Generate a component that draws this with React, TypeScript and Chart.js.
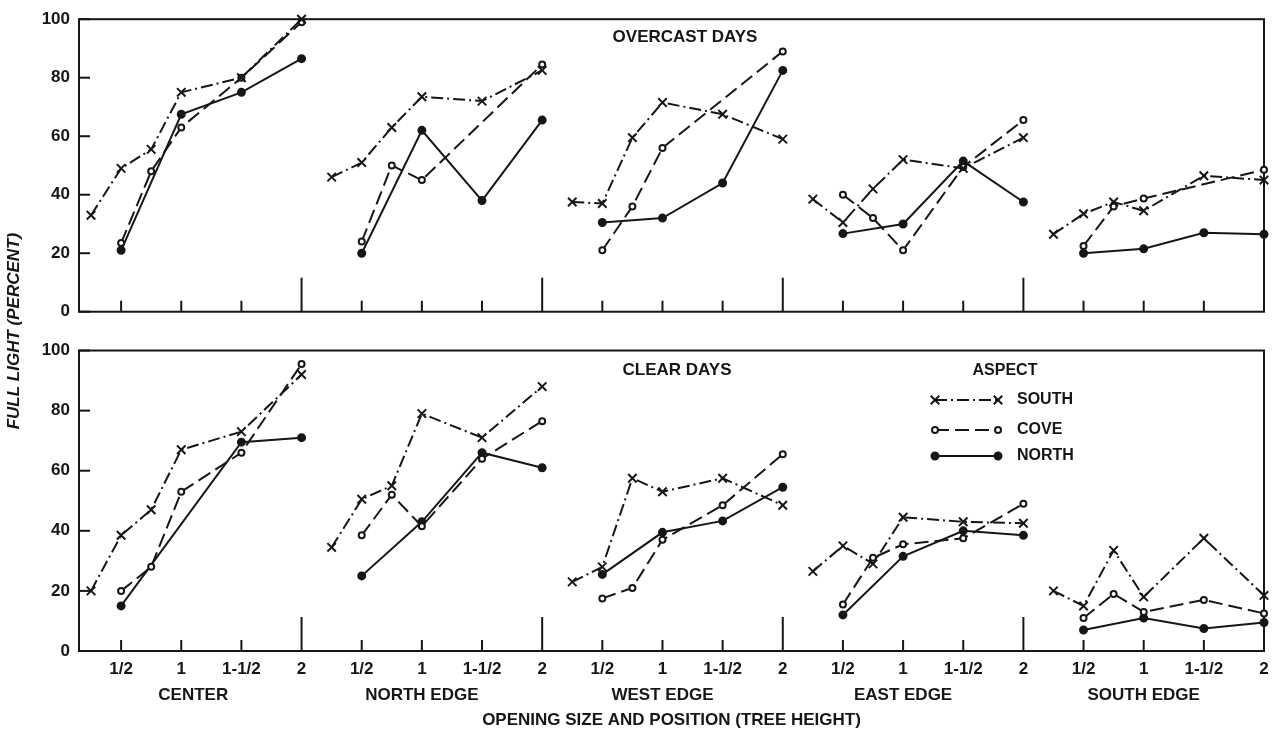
import React, { useEffect, useRef } from 'react';
import { Chart, registerables } from 'chart.js';

Chart.register(...registerables);

// ---------- data ----------
const GROUPS = ['CENTER', 'NORTH EDGE', 'WEST EDGE', 'EAST EDGE', 'SOUTH EDGE'];
// opening size (tree heights) sampled inside every group
const POSITIONS = [0.25, 0.5, 0.75, 1, 1.5, 2];
const X_TICK_POSITIONS = [0.5, 1, 1.5, 2];
const X_TICK_LABELS = ['1/2', '1', '1-1/2', '2'];
const Y_TICKS = [0, 20, 40, 60, 80, 100];
const ASPECTS = ['SOUTH', 'COVE', 'NORTH'];
const PANEL_TITLES = ['OVERCAST DAYS', 'CLEAR DAYS'];
const X_TITLE = 'OPENING SIZE AND POSITION (TREE HEIGHT)';
const Y_TITLE = 'FULL LIGHT (PERCENT)';
const LEGEND_TITLE = 'ASPECT';

// values per group, in POSITIONS order (null = not measured)
const overcastSouth = [
  33, 49, 55.5, 75, 80, 100,
  46, 51, 63, 73.5, 72, 82.5,
  37.5, 37, 59.5, 71.5, 67.5, 59,
  38.5, 30.5, 42, 52, 49, 59.5,
  26.5, 33.5, 37.5, 34.5, 46.5, 45,
];
const overcastCove = [
  null, 23.5, 48, 63, 80, 99,
  null, 24, 50, 45, null, 84.5,
  null, 21, 36, 56, null, 89,
  null, 40, 32, 21, 49.5, 65.5,
  null, 22.5, 36, 38.7, null, 48.5,
];
const overcastNorth = [
  null, 21, null, 67.5, 75, 86.5,
  null, 20, null, 62, 38, 65.5,
  null, 30.5, null, 32, 44, 82.5,
  null, 26.7, null, 30, 51.5, 37.5,
  null, 20, null, 21.5, 27, 26.5,
];
const clearSouth = [
  20, 38.5, 47, 67, 73, 92,
  34.5, 50.5, 55, 79, 71, 88,
  23, 28, 57.5, 53, 57.5, 48.5,
  26.5, 35, 29, 44.5, 43, 42.5,
  20, 15, 33.5, 18, 37.5, 18.5,
];
const clearCove = [
  null, 20, 28, 53, 66, 95.5,
  null, 38.5, 52, 41.5, 64, 76.5,
  null, 17.5, 21, 37, 48.5, 65.5,
  null, 15.5, 31, 35.5, 37.5, 49,
  null, 11, 19, 13, 17, 12.5,
];
const clearNorth = [
  null, 15, null, null, 69.5, 71,
  null, 25, null, 43, 66, 61,
  null, 25.5, null, 39.5, 43.3, 54.5,
  null, 12, null, 31.5, 40, 38.5,
  null, 7, null, 11, 7.5, 9.5,
];

// ---------- styles / layout ----------
const INK = '#161616';
const FONT = "'Liberation Sans', Arial, Helvetica, sans-serif";
const GROUP_SPAN = 2;
const GROUP_LABEL_AT = [1.1, 3, 5, 7, 9];

type Style = { dash: number[]; pointStyle: string; radius: number; fill: string };
const STYLES: Record<string, Style> = {
  SOUTH: { dash: [12, 4, 2, 4], pointStyle: 'crossRot', radius: 6, fill: '#ffffff' },
  COVE: { dash: [14, 6], pointStyle: 'circle', radius: 3, fill: '#ffffff' },
  NORTH: { dash: [], pointStyle: 'circle', radius: 3.5, fill: INK },
};

function toPoints(values: (number | null)[]) {
  const pts: { x: number; y: number | null }[] = [];
  GROUPS.forEach((_, g) => {
    POSITIONS.forEach((p, i) => {
      const v = values[g * POSITIONS.length + i];
      if (v !== null && v !== undefined) pts.push({ x: g * GROUP_SPAN + p, y: v });
    });
    if (g < GROUPS.length - 1) pts.push({ x: g * GROUP_SPAN + GROUP_SPAN + 0.1, y: null });
  });
  return pts;
}

function tickLabel(value: number) {
  const rel = value - GROUP_SPAN * Math.floor((value - 0.001) / GROUP_SPAN);
  const idx = X_TICK_POSITIONS.findIndex((p) => Math.abs(p - rel) < 0.01);
  return idx >= 0 ? X_TICK_LABELS[idx] : '';
}

function drawMarker(ctx: CanvasRenderingContext2D, st: Style, x: number, y: number) {
  ctx.save();
  ctx.setLineDash([]);
  ctx.lineWidth = 2;
  ctx.strokeStyle = INK;
  if (st.pointStyle === 'crossRot') {
    const d = st.radius * Math.SQRT1_2;
    ctx.beginPath();
    ctx.moveTo(x - d, y - d);
    ctx.lineTo(x + d, y + d);
    ctx.moveTo(x - d, y + d);
    ctx.lineTo(x + d, y - d);
    ctx.stroke();
  } else {
    ctx.beginPath();
    ctx.arc(x, y, st.radius, 0, Math.PI * 2);
    ctx.fillStyle = st.fill;
    ctx.fill();
    ctx.stroke();
  }
  ctx.restore();
}

const decorPlugin = {
  id: 'decor',
  beforeDatasetsDraw(chart: any) {
    const { ctx, chartArea, scales } = chart;
    const xs = scales.x;
    ctx.save();
    ctx.strokeStyle = INK;
    ctx.lineWidth = 2;
    ctx.setLineDash([]);
    const line = (x1: number, y1: number, x2: number, y2: number) => {
      ctx.beginPath();
      ctx.moveTo(x1, y1);
      ctx.lineTo(x2, y2);
      ctx.stroke();
    };
    for (const id of ['yTop', 'yBot']) {
      const ys = scales[id];
      const top = ys.getPixelForValue(100);
      const bottom = ys.getPixelForValue(0);
      ctx.strokeRect(chartArea.left, top, chartArea.right - chartArea.left, bottom - top);
      for (const v of Y_TICKS) {
        const py = ys.getPixelForValue(v);
        line(chartArea.left, py, chartArea.left + 11, py);
      }
      GROUPS.forEach((_, g) => {
        X_TICK_POSITIONS.forEach((p) => {
          const px = xs.getPixelForValue(g * GROUP_SPAN + p);
          const len = p === GROUP_SPAN && g < GROUPS.length - 1 ? 34 : 11;
          line(px, bottom, px, bottom - len);
        });
      });
    }
    ctx.restore();
  },
  afterDraw(chart: any) {
    const { ctx, scales } = chart;
    const xs = scales.x;
    ctx.save();
    ctx.fillStyle = INK;
    ctx.textAlign = 'center';
    ctx.textBaseline = 'middle';
    ctx.font = `bold 17px ${FONT}`;
    // panel titles
    ctx.fillText(PANEL_TITLES[0], 685, 37);
    ctx.fillText(PANEL_TITLES[1], 677, 370);
    // group labels
    GROUPS.forEach((name, g) => {
      ctx.fillText(name, xs.getPixelForValue(GROUP_LABEL_AT[g]), 695);
    });
    // legend
    ctx.font = `bold 16px ${FONT}`;
    ctx.fillText(LEGEND_TITLE, 1005, 371);
    const rows = [400, 430, 456];
    ASPECTS.forEach((a, i) => {
      const st = STYLES[a];
      const y = rows[i];
      ctx.save();
      ctx.strokeStyle = INK;
      ctx.lineWidth = 2;
      ctx.setLineDash(st.dash);
      ctx.beginPath();
      ctx.moveTo(935, y);
      ctx.lineTo(998, y);
      ctx.stroke();
      ctx.restore();
      drawMarker(ctx, st, 935, y);
      drawMarker(ctx, st, 998, y);
      ctx.textAlign = 'left';
      ctx.font = `bold 16px ${FONT}`;
      ctx.fillText(a, 1017, y);
    });
    ctx.restore();
  },
};

function makeDataset(label: string, values: (number | null)[], aspect: string, yAxisID: string) {
  const st = STYLES[aspect];
  return {
    label,
    data: toPoints(values),
    yAxisID,
    xAxisID: 'x',
    borderColor: INK,
    borderWidth: 2,
    borderDash: st.dash,
    pointStyle: st.pointStyle,
    pointRadius: st.radius,
    pointBorderWidth: 2,
    pointBorderColor: INK,
    pointBackgroundColor: st.fill,
    tension: 0,
    spanGaps: false,
    clip: false,
  };
}

export default function App() {
  const ref = useRef<HTMLCanvasElement | null>(null);
  useEffect(() => {
    if (!ref.current) return;
    const yCommon = {
      type: 'linear',
      position: 'left',
      stack: 'panels',
      min: 0,
      max: 100,
      grid: { display: false, drawTicks: false },
      border: { display: false },
      ticks: {
        stepSize: 20,
        padding: 9,
        color: INK,
        font: { family: FONT, size: 17, weight: 'bold' },
      },
      afterFit: (s: any) => {
        s.width = 79;
      },
    };
    const chart = new Chart(ref.current, {
      type: 'line',
      data: {
        datasets: [
          makeDataset('South (overcast)', overcastSouth, 'SOUTH', 'yTop'),
          makeDataset('Cove (overcast)', overcastCove, 'COVE', 'yTop'),
          makeDataset('North (overcast)', overcastNorth, 'NORTH', 'yTop'),
          makeDataset('South (clear)', clearSouth, 'SOUTH', 'yBot'),
          makeDataset('Cove (clear)', clearCove, 'COVE', 'yBot'),
          makeDataset('North (clear)', clearNorth, 'NORTH', 'yBot'),
        ],
      },
      options: {
        animation: false,
        responsive: false,
        devicePixelRatio: 1,
        layout: { padding: { left: 0, right: 6, top: 16, bottom: 0 } },
        plugins: {
          legend: { display: false },
          title: { display: false },
          tooltip: { enabled: false },
        },
        scales: {
          x: {
            type: 'linear',
            position: 'bottom',
            min: 0.15,
            max: 10,
            grid: { display: false, drawTicks: false },
            border: { display: false },
            afterBuildTicks: (s: any) => {
              const t: { value: number }[] = [];
              GROUPS.forEach((_, g) => X_TICK_POSITIONS.forEach((p) => t.push({ value: g * GROUP_SPAN + p })));
              s.ticks = t;
            },
            ticks: {
              autoSkip: false,
              maxRotation: 0,
              padding: 8,
              color: INK,
              font: { family: FONT, size: 17, weight: 'bold' },
              callback: (v: any) => tickLabel(Number(v)),
            },
            title: {
              display: true,
              text: X_TITLE,
              color: INK,
              font: { family: FONT, size: 17, weight: 'bold', lineHeight: 1 },
              padding: { top: 0, bottom: 0 },
            },
            afterFit: (s: any) => {
              s.height = 78;
              s.paddingLeft = 0;
              s.paddingRight = 0;
            },
          },
          yBot: { ...yCommon, stackWeight: 302 },
          yGap: {
            type: 'linear',
            position: 'left',
            stack: 'panels',
            stackWeight: 39,
            grid: { display: false, drawTicks: false },
            border: { display: false },
            ticks: { display: false },
            title: {
              display: true,
              text: Y_TITLE,
              color: INK,
              font: { family: FONT, size: 17, weight: 'bold', style: 'italic' },
              padding: { top: 4, bottom: 0 },
            },
            afterFit: (s: any) => {
              s.width = 79;
            },
          },
          yTop: { ...yCommon, stackWeight: 294 },
        },
      } as any,
      plugins: [decorPlugin],
    } as any);
    return () => chart.destroy();
  }, []);
  return (
    <div style={{ position: 'absolute', left: 0, top: 0, width: 1272, height: 729, background: '#ffffff' }}>
      <canvas ref={ref} width={1272} height={729} />
    </div>
  );
}
